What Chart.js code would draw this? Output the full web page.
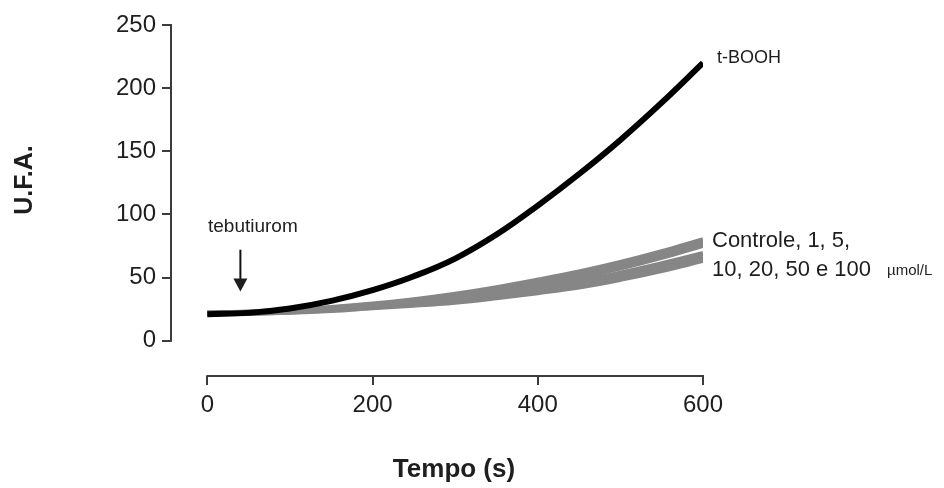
<!DOCTYPE html>
<html>
<head>
<meta charset="utf-8">
<script src="https://cdn.jsdelivr.net/npm/chart.js@4.4.1/dist/chart.umd.min.js"></script>
<style>
  html, body { margin: 0; padding: 0; background: #fff; }
  #wrap { width: 944px; height: 488px; }
</style>
</head>
<body>
<div id="wrap"><canvas id="c" width="944" height="488"></canvas></div>
<script>
// ---------- dados ----------
const tempo = [0, 50, 100, 150, 200, 250, 300, 350, 400, 450, 500, 550, 600];

const tBOOH = [21, 22, 25.5, 31.5, 40, 51, 65, 84, 107, 132, 159, 188.5, 220];

// tebutiurom (controle, 1, 5, 10, 20, 50 e 100 µmol/L) – faixa cinza
const controle = [22, 22.7, 24, 26.2, 29, 32.5, 36.8, 42, 48, 54.5, 62, 70.5, 80];
const tebu1    = [21.8, 22.5, 23.7, 25.8, 28.5, 31.8, 35.7, 40.7, 46.3, 53, 60.5, 69, 78.5];
const tebu5    = [21.7, 22.3, 23.5, 25.4, 28, 31, 34.7, 39.3, 44.7, 51.5, 59, 67.5, 77];
const tebu10   = [21.5, 22.1, 23.2, 25, 27.5, 30.3, 33.7, 38, 43, 50, 57.5, 66, 75.5];
const tebu20   = [21.3, 21.9, 22.9, 24.7, 27, 29.5, 32.6, 36.7, 41.3, 47, 53.5, 61, 69];
const tebu50   = [21.2, 21.7, 22.7, 24.3, 26.5, 28.8, 31.6, 35.3, 39.7, 44.8, 51, 58.2, 66.2];
const tebu100  = [21, 21.5, 22.4, 23.9, 26, 28, 30.5, 34, 38, 42.5, 48.5, 55.5, 63.5];

const cinzaSeries = [controle, tebu1, tebu5, tebu10, tebu20, tebu50, tebu100];
const cinzaNomes = ['Controle', '1 µmol/L', '5 µmol/L', '10 µmol/L', '20 µmol/L', '50 µmol/L', '100 µmol/L'];

const yTicks = [0, 50, 100, 150, 200, 250];
const xTicks = [0, 200, 400, 600];

// ---------- estilo ----------
const FONT = '"Liberation Sans", Arial, Helvetica, sans-serif';
const INK = '#1e1e1e';
const AXIS = '#3c3c3c';
const GRAY = '#868686';

const pts = (arr) => arr.map((v, i) => ({ x: tempo[i], y: v }));

const datasets = [{
  label: 't-BOOH',
  data: pts(tBOOH),
  borderColor: '#000',
  borderWidth: 6,
  pointRadius: 0,
  tension: 0.4,
}];
cinzaSeries.forEach((s, i) => {
  datasets.push({
    label: cinzaNomes[i],
    data: pts(s),
    borderColor: GRAY,
    borderWidth: 5,
    pointRadius: 0,
    tension: 0.4,
  });
});

// eixos "soltos", seta e rótulos
const decor = {
  id: 'decor',
  beforeDatasetsDraw(chart) {
    const { ctx, scales: { x, y } } = chart;
    ctx.save();
    ctx.strokeStyle = AXIS;
    ctx.lineWidth = 2;
    ctx.beginPath();
    ctx.moveTo(x.left, y.getPixelForValue(yTicks[0]) + 1);
    ctx.lineTo(x.left, y.getPixelForValue(yTicks[yTicks.length - 1]) - 1);
    ctx.moveTo(x.getPixelForValue(xTicks[0]) - 1, y.bottom);
    ctx.lineTo(x.getPixelForValue(xTicks[xTicks.length - 1]) + 1, y.bottom);
    ctx.stroke();
    ctx.restore();
  },
  afterDraw(chart) {
    const { ctx, scales: { x, y } } = chart;
    ctx.save();
    ctx.fillStyle = INK;

    // títulos dos eixos
    ctx.font = 'bold 25px ' + FONT;
    ctx.textAlign = 'center';
    ctx.textBaseline = 'middle';
    ctx.save();
    ctx.translate(25, 180);
    ctx.rotate(-Math.PI / 2);
    ctx.fillText('U.F.A.', 0, 0);
    ctx.restore();
    ctx.textBaseline = 'alphabetic';
    ctx.font = 'bold 26px ' + FONT;
    ctx.fillText('Tempo (s)', 454, 477);

    // seta do tebutiurom
    const ax = x.getPixelForValue(40);
    const yTop = y.getPixelForValue(72);
    const yTip = y.getPixelForValue(39);
    ctx.strokeStyle = '#111';
    ctx.lineWidth = 2;
    ctx.beginPath();
    ctx.moveTo(ax, yTop);
    ctx.lineTo(ax, yTip - 10);
    ctx.stroke();
    ctx.beginPath();
    ctx.moveTo(ax - 7, yTip - 13);
    ctx.lineTo(ax + 7, yTip - 13);
    ctx.lineTo(ax, yTip);
    ctx.closePath();
    ctx.fill();

    ctx.textAlign = 'left';
    ctx.font = '19px ' + FONT;
    ctx.fillText('tebutiurom', 208, 232);

    const xr = x.getPixelForValue(600);
    ctx.font = '18px ' + FONT;
    ctx.fillText('t-BOOH', xr + 14, 63);

    ctx.font = '22px ' + FONT;
    ctx.fillText('Controle, 1, 5,', xr + 9, 247);
    ctx.fillText('10, 20, 50 e 100', xr + 9, 276);
    ctx.font = '15px ' + FONT;
    ctx.fillText('µmol/L', xr + 184, 275);
    ctx.restore();
  }
};

new Chart(document.getElementById('c'), {
  type: 'line',
  data: { datasets },
  plugins: [decor],
  options: {
    responsive: false,
    animation: false,
    layout: { padding: { left: 0, top: 25, right: 241, bottom: 0 } },
    plugins: { legend: { display: false }, tooltip: { enabled: false } },
    scales: {
      x: {
        type: 'linear',
        min: -44,
        max: 600,
        afterFit: (s) => { s.height = 112; },
        afterBuildTicks: (s) => { s.ticks = xTicks.map((v) => ({ value: v })); },
        border: { display: false },
        grid: { drawOnChartArea: false, drawTicks: true, tickLength: 9, color: AXIS, lineWidth: 2 },
        ticks: { color: INK, font: { family: FONT, size: 24 }, padding: 6, maxRotation: 0 },
      },
      y: {
        type: 'linear',
        min: -28,
        max: 250,
        afterFit: (s) => { s.width = 171; },
        afterBuildTicks: (s) => { s.ticks = yTicks.map((v) => ({ value: v })); },
        border: { display: false },
        grid: { drawOnChartArea: false, drawTicks: true, tickLength: 9, color: AXIS, lineWidth: 2 },
        ticks: { color: INK, font: { family: FONT, size: 24 }, padding: 6 },
      },
    },
  },
});
</script>
</body>
</html>
